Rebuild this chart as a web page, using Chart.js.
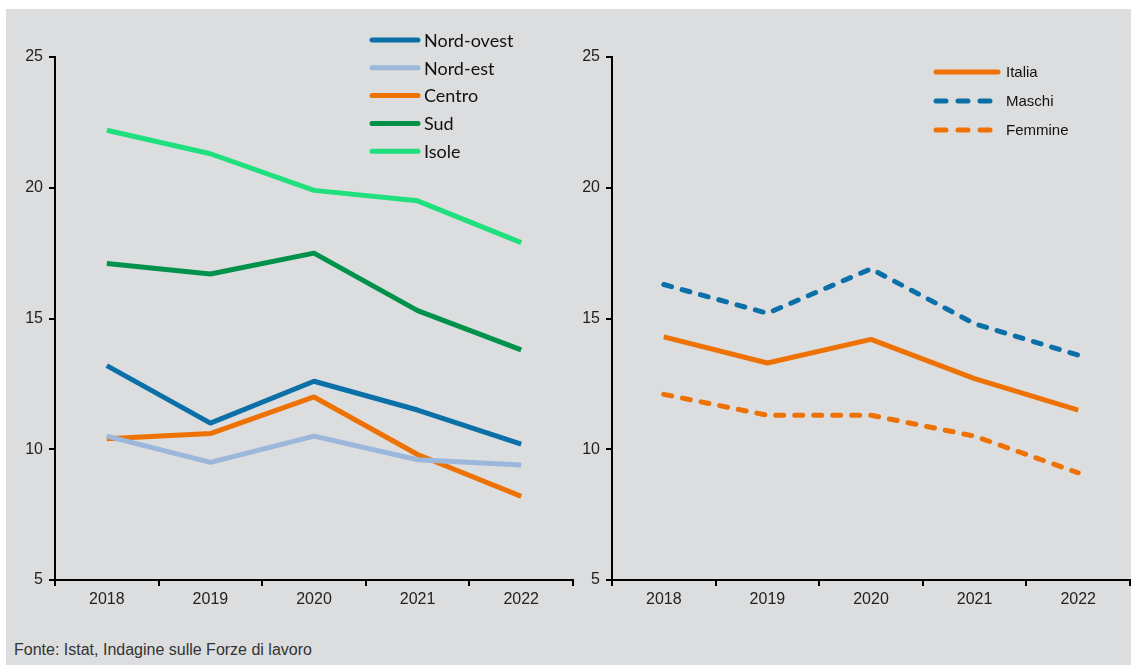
<!DOCTYPE html>
<html>
<head>
<meta charset="utf-8">
<script src="https://cdn.jsdelivr.net/npm/chart.js@4.4.0/dist/chart.umd.min.js"></script>
<style>
  html, body { margin: 0; padding: 0; background: #fff; }
  #panel { position: absolute; left: 6px; top: 9px; width: 1125px; height: 656px; background: #dcdddf; }
  .box { position: absolute; }
  #left { left: 0px; top: 0px; width: 575px; height: 600px; }
  #right { left: 569px; top: 0px; width: 556px; height: 600px; }
  #source { position: absolute; left: 8px; top: 632px; font: 16px "Liberation Sans Narrow", "Arial Narrow", "Liberation Sans", sans-serif; color: #333; }
</style>
</head>
<body>
<div id="panel">
  <div class="box" id="left"><canvas id="leftChart"></canvas></div>
  <div class="box" id="right"><canvas id="rightChart"></canvas></div>
  <div id="source">Fonte: Istat, Indagine sulle Forze di lavoro</div>
</div>
<script>
// categories
const years = ['2018', '2019', '2020', '2021', '2022'];

// left panel: ripartizioni
const nordOvest = [13.2, 11.0, 12.6, 11.5, 10.2];
const nordEst = [10.5, 9.5, 10.5, 9.6, 9.4];
const centro = [10.4, 10.6, 12.0, 9.8, 8.2];
const sud = [17.1, 16.7, 17.5, 15.3, 13.8];
const isole = [22.2, 21.3, 19.9, 19.5, 17.9];

// right panel: Italia and by sex
const italia = [14.3, 13.3, 14.2, 12.7, 11.5];
const maschi = [16.3, 15.2, 16.9, 14.8, 13.6];
const femmine = [12.1, 11.3, 11.3, 10.5, 9.1];

const yTicks = { min: 5, max: 25, step: 5 };

const BLUE = '#0b70a8';
const LIGHTBLUE = '#9bb7dc';
const ORANGE = '#ee7203';
const GREEN = '#00924a';
const LIGHTGREEN = '#1fe07c';

function line(label, data, color, dash) {
  return {
    label: label,
    data: data,
    borderColor: color,
    backgroundColor: color,
    borderWidth: 5,
    borderDash: dash || [],
    borderCapStyle: dash ? 'round' : 'butt',
    borderJoinStyle: 'round',
    pointRadius: 0,
    tension: 0,
    fill: false
  };
}

// draws the legend at a fixed place inside the canvas
const manualLegend = {
  id: 'manualLegend',
  afterDraw(chart, args, opts) {
    const ctx = chart.ctx;
    ctx.save();
    ctx.font = opts.font;
    ctx.textBaseline = 'middle';
    chart.data.datasets.forEach((ds, i) => {
      const y = opts.y + i * opts.rowH;
      ctx.strokeStyle = ds.borderColor;
      ctx.lineWidth = opts.lineW;
      ctx.lineCap = 'round';
      ctx.setLineDash(ds.borderDash.length ? opts.dash : []);
      ctx.beginPath();
      ctx.moveTo(opts.x, y);
      ctx.lineTo(opts.x + opts.lineLen, y);
      ctx.stroke();
      ctx.setLineDash([]);
      ctx.fillStyle = '#111';
      ctx.fillText(ds.label, opts.x + opts.lineLen + opts.gap, y + 1);
    });
    ctx.restore();
  }
};

function options(yWidth, padRight, legend) {
  return {
    responsive: true,
    maintainAspectRatio: false,
    animation: false,
    layout: { padding: { top: 48, right: padRight, bottom: 0, left: 0 } },
    scales: {
      x: {
        offset: true,
        grid: { offset: true, drawOnChartArea: false, color: '#000', lineWidth: 2, tickLength: 6 },
        border: { color: '#000', width: 2 },
        ticks: { color: '#222', font: { family: 'Liberation Sans, Arial', size: 16 }, padding: 4, maxRotation: 0 },
        afterFit(scale) { scale.height = 29; }
      },
      y: {
        min: yTicks.min,
        max: yTicks.max,
        grid: { drawOnChartArea: false, color: '#000', lineWidth: 2, tickLength: 6 },
        border: { color: '#000', width: 2 },
        ticks: { stepSize: yTicks.step, color: '#222', font: { family: 'Liberation Sans, Arial', size: 16 }, padding: 6 },
        afterFit(scale) { scale.width = yWidth; }
      }
    },
    plugins: {
      legend: { display: false },
      tooltip: { enabled: false },
      manualLegend: legend
    }
  };
}

new Chart(document.getElementById('leftChart'), {
  type: 'line',
  data: {
    labels: years,
    datasets: [
      line('Nord-ovest', nordOvest, BLUE),
      line('Nord-est', nordEst, LIGHTBLUE),
      line('Centro', centro, ORANGE),
      line('Sud', sud, GREEN),
      line('Isole', isole, LIGHTGREEN)
    ]
  },
  options: options(49, 8, { x: 366, y: 31, rowH: 27.8, lineLen: 46, lineW: 5, gap: 6, dash: [], font: '18px Lato, "Open Sans", sans-serif' }),
  plugins: [manualLegend]
});

new Chart(document.getElementById('rightChart'), {
  type: 'line',
  data: {
    labels: years,
    datasets: [
      line('Italia', italia, ORANGE),
      line('Maschi', maschi, BLUE, [8, 11]),
      line('Femmine', femmine, ORANGE, [8, 11])
    ]
  },
  options: options(37, 1, { x: 361, y: 63, rowH: 29, lineLen: 62, lineW: 5, gap: 8, dash: [10, 12], font: '15px "Liberation Sans", Arial, sans-serif' }),
  plugins: [manualLegend]
});
</script>
</body>
</html>
